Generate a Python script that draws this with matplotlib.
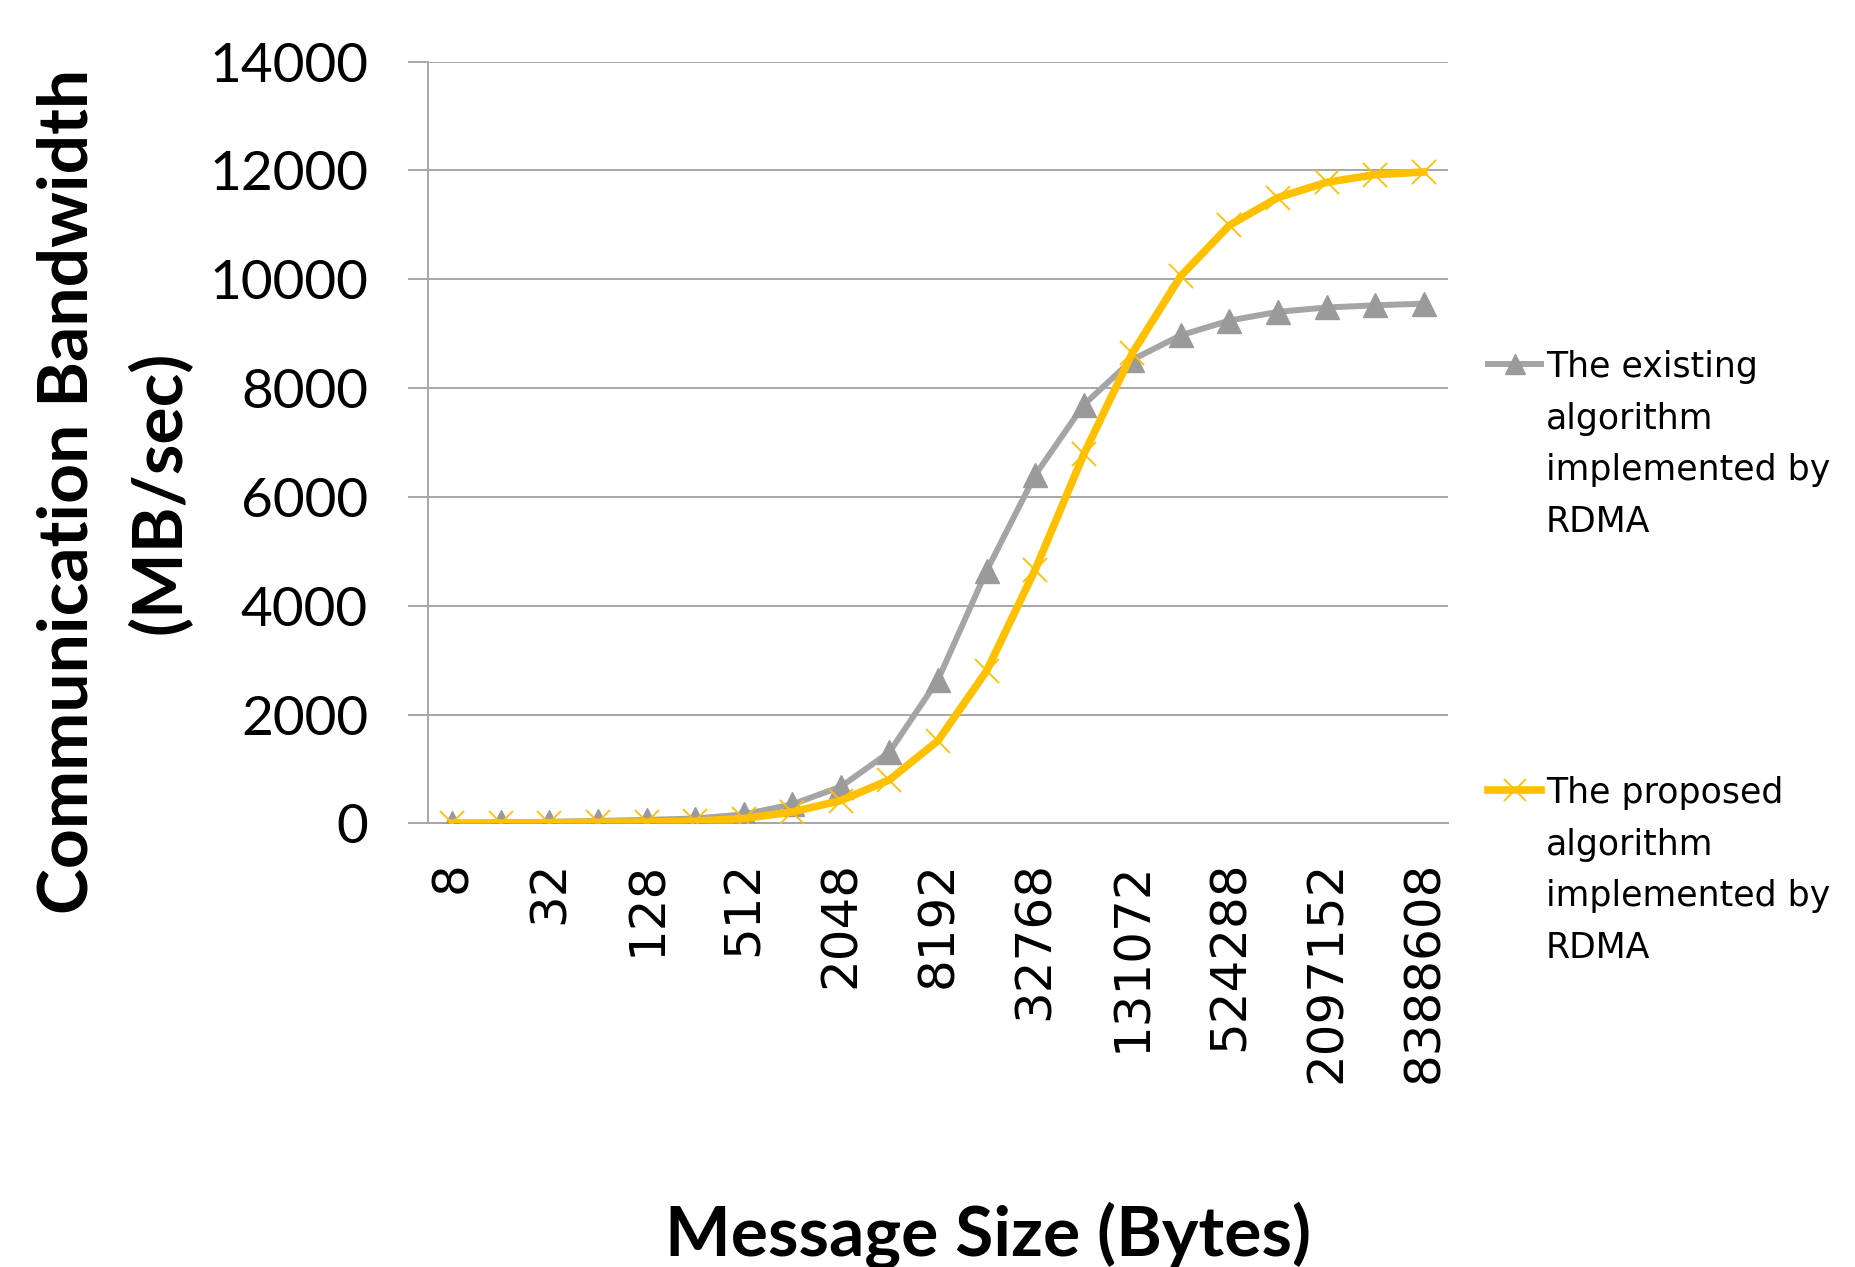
import matplotlib
matplotlib.use("Agg")
import matplotlib.pyplot as plt
from matplotlib.lines import Line2D

# Message sizes in bytes (categorical x axis)
message_sizes = [8, 16, 32, 64, 128, 256, 512, 1024, 2048, 4096, 8192, 16384,
                 32768, 65536, 131072, 262144, 524288, 1048576, 2097152,
                 4194304, 8388608]

# Bandwidth in MB/sec
existing_bw = [10, 20, 30, 45, 65, 90, 165, 350, 675, 1310, 2640, 4640,
               6400, 7690, 8520, 8970, 9240, 9400, 9480, 9520, 9550]
proposed_bw = [5, 8, 12, 18, 25, 40, 90, 210, 420, 800, 1520, 2800,
               4660, 6780, 8640, 10060, 10990, 11500, 11780, 11920, 11970]

series_labels = ["The existing\nalgorithm\nimplemented by\nRDMA",
                 "The proposed\nalgorithm\nimplemented by\nRDMA"]
y_ticks = [0, 2000, 4000, 6000, 8000, 10000, 12000, 14000]

W, H, DPI = 1855, 1267, 100
fig = plt.figure(figsize=(W / DPI, H / DPI), dpi=DPI)


def fx(px):
    return px / W


def fy(py):
    return 1 - py / H


GRID = "#A6A6A6"
GRAY = "#A5A5A5"
GRAY_MARK = "#9A9A9A"
GOLD = "#FFC000"

ax_left, ax_right, ax_top, ax_bottom = 428, 1448, 61.5, 823.4
ax = fig.add_axes([fx(ax_left), fy(ax_bottom),
                   (ax_right - ax_left) / W, (ax_bottom - ax_top) / H])

x = list(range(len(message_sizes)))
ax.plot(x, existing_bw, color=GRAY, lw=4.3, marker="^", ms=17,
        mfc=GRAY_MARK, mec=GRAY_MARK, zorder=3)
ax.plot(x, proposed_bw, color=GOLD, lw=5.5, marker="x", ms=17, mew=1.3,
        mec=GOLD, zorder=4)

ax.set_xlim(-0.5, len(x) - 0.5)
ax.set_ylim(0, 14000)
ax.set_yticks(y_ticks)
ax.set_yticklabels([str(v) for v in y_ticks])
ax.yaxis.grid(True, color=GRID, lw=1.4)
ax.set_axisbelow(True)
for s in ["top", "right"]:
    ax.spines[s].set_visible(False)
for s in ["left", "bottom"]:
    ax.spines[s].set_color(GRID)
    ax.spines[s].set_linewidth(1.4)
ax.tick_params(axis="y", length=14.4, width=1.4, color=GRID, pad=28.8,
               labelsize=39.5, labelfontfamily="Lato")

xtick_idx = x[::2]
ax.set_xticks(xtick_idx)
ax.set_xticklabels([str(message_sizes[i]) for i in xtick_idx], rotation=90,
                   ha="center", va="top", family="DejaVu Sans", fontsize=36)
ax.tick_params(axis="x", length=0, pad=27)

# Axis titles
fig.text(fx(88), fy(491), "Communication Bandwidth", rotation=90,
         rotation_mode="anchor", ha="center", va="baseline",
         family="Lato", weight="bold", fontsize=50)
fig.text(fx(181), fy(492), "(MB/sec)", rotation=90,
         rotation_mode="anchor", ha="center", va="baseline",
         family="Lato", weight="bold", fontsize=50)
fig.text(fx(988), fy(1256), "Message Size (Bytes)", ha="center",
         va="baseline", family="Lato", weight="bold", fontsize=50)

# Legend entries on the right
styles = [dict(color=GRAY, lw=4.3, marker="^", ms=14, mfc=GRAY_MARK,
               mec=GRAY_MARK),
          dict(color=GOLD, lw=5.5, marker="x", ms=16, mew=1.3, mec=GOLD)]
handle_y = [364, 790]
for label, style, hy in zip(series_labels, styles, handle_y):
    fig.add_artist(Line2D([fx(1488), fx(1541)], [fy(hy), fy(hy)],
                          color=style["color"], lw=style["lw"],
                          transform=fig.transFigure))
    mk = {k: v for k, v in style.items() if k not in ("color", "lw")}
    fig.add_artist(Line2D([fx(1514.5)], [fy(hy)], ls="none",
                          transform=fig.transFigure, **mk))
    fig.text(fx(1546), fy(hy - 14), label, ha="left", va="top",
             family="DejaVu Sans", fontsize=25, linespacing=1.65)

fig.savefig("out.png", dpi=DPI, facecolor="white")
